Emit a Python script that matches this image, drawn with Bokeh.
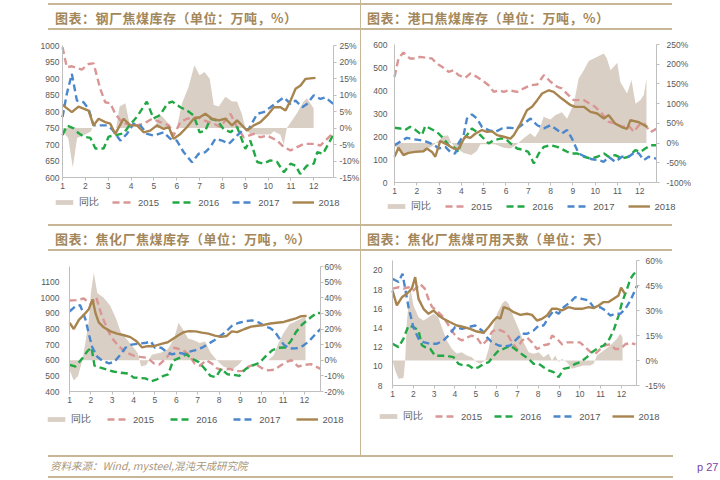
from bokeh.plotting import figure
from bokeh.models import Range1d, LinearAxis, FixedTicker, PrintfTickFormatter, Legend, LegendItem, Div
from bokeh.layouts import row, column
from bokeh.embed import file_html
from bokeh.resources import INLINE

# ---------------- data ----------------
month_ticks = list(range(1, 13))
series_names = ["同比", "2015", "2016", "2017", "2018"]

# Panel 1: 钢厂焦煤库存
mill_area_x = [1.0,1.25,1.45,1.64,2.0,2.25,2.3,3.35,3.5,3.75,3.97,5.07,5.21,5.43,5.8,6.0,6.23,6.52,6.77,7.0,7.21,7.44,7.62,7.84,8.13,8.42,8.64,8.86,9.0,9.22,10.1,10.24,10.53,10.68,10.82,11.26,11.55,11.7,11.99]
mill_area_y = [-1,-3,-12,-3,-2,-1,0,0,6.5,7.5,0,0,4.5,3,0,0,7.5,12.5,19,16,17,15,7,6.5,9.5,8,8,4,0,-2,-2,-1,-2,-5,0,4.5,8,9,6]
mill_2015_x = [1.0,1.19,1.41,1.85,2.14,2.36,2.65,2.87,3.09,3.31,3.6,3.89,4.26,4.55,4.92,5.28,5.65,5.86,6.16,6.45,6.89,7.18,7.62,7.91,8.35,8.64,8.93,9.37,9.66,9.96,10.39,10.69,10.98,11.27,11.56,12.0,12.29,12.8]
mill_2015_y = [995,934,937,927,944,946,869,828,825,793,768,760,758,763,778,768,758,727,768,778,783,773,763,753,793,753,722,732,722,727,712,692,682,692,702,702,697,732]
mill_2016_x = [1.0,1.2,1.49,1.71,1.93,2.22,2.44,2.8,3.02,3.38,3.67,3.97,4.26,4.69,4.98,5.27,5.6,5.8,6.16,6.45,6.74,7.0,7.25,7.47,7.76,8.05,8.35,8.64,9.0,9.22,9.52,9.8,10.1,10.39,10.69,10.98,11.2,11.4,11.7,12.0,12.15,12.4,12.85]
mill_2016_y = [729,757,749,734,724,720,688,688,724,729,734,761,784,830,779,789,825,830,813,803,788,737,742,778,773,747,737,753,687,712,647,642,652,647,616,642,636,611,636,642,677,672,729]
mill_2017_x = [1.0,1.19,1.41,1.63,1.92,2.14,2.36,2.65,2.94,3.16,3.53,3.82,4.11,4.4,4.7,4.99,5.43,5.72,6.0,6.3,6.67,6.96,7.25,7.47,7.69,7.98,8.28,8.57,8.86,9.15,9.52,9.8,10.1,10.39,10.69,10.98,11.2,11.49,11.7,12.0,12.29,12.5,12.85]
mill_2017_y = [783,854,914,833,828,808,758,758,758,747,712,732,763,758,732,727,737,717,712,677,646,672,677,692,717,712,702,722,742,747,793,798,813,828,843,823,833,813,823,849,838,843,823]
mill_2018_x = [1.0,1.41,1.7,2.14,2.36,2.58,2.87,3.09,3.31,3.67,3.97,4.26,4.55,4.84,5.13,5.43,5.65,5.86,6.16,6.45,6.74,7.03,7.25,7.54,7.84,8.13,8.42,8.64,9.08,9.37,9.66,9.96,10.25,10.54,10.76,10.98,11.2,11.42,11.64,12.07]
mill_2018_y = [820,798,815,803,758,778,768,763,732,778,758,758,737,742,758,747,753,717,732,753,778,783,793,778,773,778,758,773,742,758,768,788,813,813,803,833,869,879,899,902]

# Panel 2: 港口焦煤库存
port_area_x = [1.0,1.15,1.45,1.85,2.3,2.7,2.95,3.2,3.4,3.55,3.75,4.1,4.45,4.7,4.85,5.5,5.9,6.2,6.45,6.79,7.09,7.3,7.47,7.69,7.99,8.22,8.51,8.74,9.04,9.26,9.49,9.71,10.09,10.39,10.52,10.69,10.99,11.13,11.43,11.63,11.81,12.03,12.18,12.3]
port_area_y = [-5,-15,-30,-22,-18,-8,5,18,20,0,-12,-25,-30,-20,-3,-3,-12,-14,-5,12,25,15,30,67,60,71,78,62,100,164,185,208,219,227,215,185,204,155,126,160,100,109,122,164]
port_2015_x = [1.0,1.18,1.4,1.7,1.93,2.15,2.38,2.68,2.9,3.13,3.43,3.65,3.87,4.17,4.4,4.7,4.92,5.22,5.45,5.67,5.9,6.12,6.5,6.8,7.1,7.4,7.7,8.0,8.3,8.5,8.8,9.04,9.49,10.0,10.3,10.6,10.9,11.2,11.5,11.73,11.96,12.2,12.48,12.74]
port_2015_y = [459,539,565,539,539,546,543,539,517,503,481,488,467,455,474,459,445,423,394,401,394,401,394,409,423,426,467,438,416,409,380,358,358,329,300,264,256,242,248,220,249,256,219,233]
port_2016_x = [1.0,1.25,1.48,1.7,1.95,2.23,2.38,2.6,2.9,3.2,3.43,3.65,3.87,4.0,4.25,4.47,4.7,4.92,5.22,5.45,5.75,5.97,6.2,6.5,6.8,7.0,7.25,7.47,7.7,8.0,8.3,8.6,8.9,9.2,9.5,9.8,10.1,10.4,10.6,10.9,11.2,11.5,11.8,12.03,12.25,12.5,12.74]
port_2016_y = [238,235,228,242,228,206,246,235,220,191,162,155,133,177,206,235,220,199,170,184,191,191,170,148,141,133,83,126,155,162,155,141,126,126,112,104,112,126,112,119,104,112,141,133,148,162,162]
port_2017_x = [1.0,1.25,1.55,1.85,2.15,2.45,2.75,2.98,3.28,3.5,3.72,3.87,4.1,4.25,4.47,4.7,4.92,5.22,5.52,5.82,6.12,6.5,6.8,7.1,7.4,7.7,8.0,8.3,8.5,8.74,8.96,9.26,9.56,9.86,10.16,10.39,10.6,10.9,11.2,11.5,11.8,11.96,12.18,12.4,12.74]
port_2017_y = [162,177,194,188,184,177,165,148,155,133,126,170,206,278,296,278,242,228,220,235,238,235,256,278,249,235,249,228,213,228,191,126,112,101,97,90,112,90,112,112,133,126,97,112,104]
port_2018_x = [1.0,1.18,1.4,1.63,1.93,2.3,2.45,2.68,2.83,3.05,3.35,3.65,3.87,4.17,4.4,4.62,4.92,5.15,5.37,5.6,5.9,6.2,6.35,6.65,6.94,7.17,7.4,7.62,7.92,8.14,8.5,8.9,9.11,9.49,9.79,10.09,10.39,10.6,10.9,11.21,11.43,11.58,11.96,12.33]
port_2018_y = [112,151,119,129,133,136,148,133,112,180,165,148,146,200,194,212,228,220,223,206,199,191,206,256,314,329,358,387,401,394,365,336,329,329,307,300,278,293,256,240,233,271,262,242]

# Panel 3: 焦化厂焦煤库存
coke_area_x = [1.0,1.2,1.4,1.6,1.75,1.9,2.0,2.14,2.3,2.6,2.9,3.2,3.4,3.65,3.95,4.2,4.35,4.6,4.85,5.3,5.6,5.9,6.1,6.3,6.55,6.8,7.1,7.35,7.6,7.9,8.2,8.6,8.9,9.1,10.3,10.55,10.75,11.0,11.3,11.6,11.9,12.05]
coke_area_y = [-6,-13,-10,0,12,25,43,56,43,40,35,26,18,14,9,4.5,-4,-3,3.5,5,7,14,24,20,14,13,11,12,5,0,-4,-6,-3,0,0,3,10,17,23,25,27,28]
coke_2015_x = [1.0,1.3,1.67,2.0,2.25,2.5,2.8,3.0,3.3,3.65,4.0,4.3,4.65,4.95,5.2,5.5,5.9,6.3,6.6,6.85,7.1,7.4,7.65,7.9,8.2,8.5,8.8,9.1,9.4,9.7,10.0,10.3,10.6,10.9,11.2,11.4,11.7,12.0,12.3,12.75]
coke_2015_y = [982,985,995,958,1003,890,790,740,690,650,630,622,615,580,572,610,680,667,635,580,565,600,580,548,538,545,530,532,560,575,550,535,540,568,592,600,560,570,575,545]
coke_2016_x = [1.0,1.28,1.6,1.85,2.03,2.17,2.45,2.76,3.05,3.4,3.75,4.0,4.3,4.55,4.83,5.1,5.4,5.62,5.85,6.2,6.47,6.75,7.05,7.3,7.6,7.85,8.1,8.4,8.65,8.95,9.25,9.55,9.9,10.2,10.5,10.8,11.1,11.35,11.6,11.9,12.3,12.6,12.75]
coke_2016_y = [570,560,612,660,682,565,553,540,528,520,515,490,486,484,466,478,500,510,598,618,638,610,588,550,500,492,545,510,508,500,545,565,585,628,665,680,682,720,780,830,875,905,900]
coke_2017_x = [1.0,1.28,1.5,1.75,1.92,2.06,2.3,2.55,2.85,3.1,3.35,3.62,3.9,4.25,4.6,4.8,5.0,5.3,5.6,5.8,6.1,6.4,6.6,6.9,7.2,7.5,7.8,8.05,8.3,8.6,8.93,9.24,9.55,9.86,10.15,10.4,10.6,10.8,11.03,11.3,11.6,11.9,12.2,12.5,12.75]
coke_2017_y = [912,945,952,860,760,685,622,596,580,590,630,680,700,706,712,722,680,680,648,638,648,640,655,665,680,705,730,755,780,820,840,850,855,842,818,805,785,745,700,675,676,690,720,765,800]
coke_2018_x = [1.0,1.2,1.44,1.67,1.9,2.08,2.22,2.37,2.6,2.92,3.23,3.55,3.85,4.15,4.4,4.65,4.95,5.3,5.6,5.85,6.1,6.35,6.6,6.9,7.2,7.5,7.8,8.1,8.35,8.6,8.85,9.2,9.5,9.8,10.1,10.4,10.7,11.03,11.3,11.6,11.85,12.1]
coke_2018_y = [840,800,858,890,926,990,900,842,811,785,770,760,748,720,682,690,690,705,715,738,760,780,786,785,777,770,758,750,755,785,780,800,815,821,826,835,840,845,856,868,882,884]

# Panel 4: 焦化厂焦煤可用天数
days_area_x = [1.0,1.13,1.29,1.53,1.61,1.69,1.85,2.01,2.25,2.49,2.73,2.97,3.2,3.37,3.61,3.85,4.09,4.33,4.57,4.81,5.05,5.21,5.45,5.62,5.78,6.02,6.26,6.42,6.58,6.82,7.06,7.3,7.54,7.78,8.02,8.26,8.5,8.66,8.82,8.98,9.14,9.38,9.62,9.86,10.18,10.5,10.66,10.82,11.14,11.46,11.78,11.94,12.05]
days_area_y = [0,-6,-11,-10.5,0,23,44,33,26,24,26,28,26,20,12,7,4,5,3,2,-1,-2,0,7,17,28,34,36,34,26,19,11,5,4,5,2,4,0,3,-1,1,-1,-5,-4,-3,-3,-2,3,6,9,13,16,14]
days_2015_x = [1.0,1.3,1.53,1.77,2.0,2.33,2.55,2.73,2.9,3.13,3.37,3.6,3.85,4.09,4.33,4.57,4.81,5.05,5.3,5.53,5.78,6.0,6.26,6.5,6.74,6.98,7.22,7.46,7.7,7.94,8.26,8.5,8.66,8.9,9.14,9.4,9.7,10.0,10.26,10.5,10.74,10.98,11.22,11.46,11.7,11.94,12.18,12.43,12.67]
days_2015_y = [18.1,18.25,18.1,18.25,17.9,18.6,18.1,17.0,16.2,15.8,15.3,14.6,13.7,13.0,12.7,13.0,13.2,13.0,12.2,12.7,13.6,13.9,13.7,13.4,12.5,11.8,12.7,13.0,12.5,11.8,12.2,12.3,13.2,12.9,12.3,12.5,12.5,12.5,12.0,11.5,11.3,11.8,12.2,12.3,11.8,11.8,12.3,12.45,12.3]
days_2016_x = [1.0,1.29,1.53,1.77,2.0,2.25,2.41,2.57,2.81,3.05,3.29,3.6,3.93,4.17,4.41,4.65,4.9,5.13,5.38,5.62,5.86,6.1,6.34,6.66,6.98,7.3,7.54,7.78,8.02,8.26,8.5,8.74,8.98,9.22,9.54,9.78,10.02,10.34,10.58,10.82,11.14,11.38,11.62,11.86,12.03,12.27,12.43,12.59,12.75]
days_2016_y = [12.35,12.0,12.9,14.26,14.1,13.74,12.2,12.0,11.83,11.1,11.1,11.1,10.96,10.26,10.1,10.1,9.74,9.9,10.26,10.43,11.1,11.65,11.83,12.17,11.65,11.13,10.78,10.26,10.26,9.9,9.57,9.39,8.87,9.74,9.9,10.26,10.43,10.96,11.48,11.83,12.17,12.7,13.74,15.3,16.7,18.1,19.13,19.65,19.83]
days_2017_x = [1.0,1.29,1.48,1.61,1.77,2.0,2.25,2.49,2.81,3.13,3.45,3.77,4.01,4.33,4.65,4.97,5.3,5.53,5.78,6.1,6.42,6.66,6.9,7.22,7.46,7.78,8.02,8.26,8.5,8.74,8.98,9.22,9.54,9.78,10.1,10.42,10.66,10.98,11.22,11.46,11.7,11.94,12.18,12.43,12.75]
days_2017_y = [19.13,18.8,19.65,18.1,16.17,14.1,12.87,12.52,12.35,12.35,12.7,13.4,14.1,13.9,14.1,14.26,13.74,13.04,12.52,12.17,12.1,12.17,12.7,13.4,13.4,13.74,14.26,14.26,15.13,15.83,15.48,16.17,16.7,17.22,17.04,16.87,16.17,16.17,15.83,15.3,15.48,15.48,16.0,16.87,18.43]
days_2018_x = [1.0,1.21,1.45,1.69,1.93,2.09,2.25,2.49,2.73,2.97,3.21,3.45,3.77,4.09,4.41,4.73,5.05,5.38,5.62,5.86,6.02,6.18,6.34,6.58,6.82,7.14,7.46,7.7,7.94,8.18,8.42,8.66,8.9,9.14,9.46,9.78,10.1,10.42,10.66,10.9,11.14,11.38,11.62,11.86,11.98,12.15]
days_2018_y = [17.9,16.35,17.2,17.57,18.1,19.3,17.04,16.0,15.48,15.83,15.3,14.96,14.6,14.26,14.1,13.9,13.63,13.5,14.1,14.78,15.13,14.96,16.17,16.0,15.65,15.37,15.48,15.37,14.78,14.96,15.3,16.0,16.0,15.83,16.17,16.0,16.0,16.17,16.07,16.35,16.7,16.7,17.04,17.4,18.2,17.6]

titles = ["图表：钢厂焦煤库存（单位：万吨，%）", "图表：港口焦煤库存（单位：万吨，%）",
          "图表：焦化厂焦煤库存（单位：万吨，%）", "图表：焦化厂焦煤可用天数（单位：天）"]
source_text = "资料来源：Wind, mysteel,混沌天成研究院"
page_text = "p 27"

# ---------------- styles ----------------
C_AREA = "#dacfc5"
C15 = "#d99694"
C16 = "#22a845"
C17 = "#4a87cc"
C18 = "#a8844f"
RULE = "#c8b796"
TXT = "#595959"
AXC = "#bfbfbf"
NUMFONT = "Liberation Sans"


def pair(xs, ys):
    n = min(len(xs), len(ys))
    return xs[:n], ys[:n]


def build(geo, xmax, yl, yr, lticks, rticks, area, s15, s16, s17, s18,
          lgap, rgap, leg_left, leg_center, legspacing):
    # geo: page-pixel geometry of the figure and of the axes box
    fx0, fy0, fw, fh, L, R, T, D = geo
    ppm = (R - L) / (xmax - 1.0)
    x0 = 1.0 - (L - fx0) / ppm
    x1 = xmax + (fx0 + fw - R) / ppm
    a, b = yl
    c, d = yr
    ppu = (D - T) / (b - a)
    y1 = b + (T - fy0) / ppu
    y0 = a - (fy0 + fh - D) / ppu
    ppr = (D - T) / (d - c)
    r1 = d + (T - fy0) / ppr
    r0 = c - (fy0 + fh - D) / ppr

    p = figure(width=fw, height=fh, x_range=Range1d(x0, x1), y_range=Range1d(y0, y1),
               toolbar_location=None, output_backend="svg",
               min_border_left=0, min_border_right=0, min_border_top=0, min_border_bottom=0)
    p.title.visible = False
    p.extra_y_ranges = {"pct": Range1d(r0, r1)}
    p.outline_line_color = None
    p.xgrid.visible = False
    p.ygrid.visible = False
    p.background_fill_color = "white"
    p.border_fill_color = "white"

    xa = p.xaxis[0]
    xa.fixed_location = a
    xa.bounds = (1.0, xmax)
    xa.ticker = FixedTicker(ticks=month_ticks)
    xa.major_tick_in = 0
    xa.major_tick_out = 3
    xa.major_label_standoff = 2
    xa.minor_tick_line_color = None

    ya = p.yaxis[0]
    ya.fixed_location = 1.0
    ya.bounds = (a, b)
    ya.ticker = FixedTicker(ticks=lticks)
    ya.major_tick_in = 0
    ya.major_tick_out = 0
    ya.major_label_standoff = lgap
    ya.minor_tick_line_color = None

    ra = LinearAxis(y_range_name="pct", fixed_location=xmax, bounds=(c, d))
    ra.ticker = FixedTicker(ticks=rticks)
    ra.formatter = PrintfTickFormatter(format="%d%%")
    ra.major_tick_in = 0
    ra.major_tick_out = 3
    ra.major_label_standoff = rgap
    ra.minor_tick_line_color = None
    p.add_layout(ra, "right")

    for ax in (xa, ya, ra):
        ax.axis_line_color = AXC
        ax.major_tick_line_color = AXC
        ax.major_label_text_font = NUMFONT
        ax.major_label_text_font_size = "8.5px"
        ax.major_label_text_color = TXT

    ax_, ay_ = pair(*area)
    r_area = p.varea(x=ax_, y1=0, y2=ay_, y_range_name="pct", fill_color=C_AREA, fill_alpha=1.0)
    rs = []
    for (xs, ys), col, dash in ((s15, C15, "7 4"), (s16, C16, "7 4"), (s17, C17, "7 4"), (s18, C18, "solid")):
        xs, ys = pair(xs, ys)
        rs.append(p.line(xs, ys, line_color=col, line_width=2.4, line_dash=dash))

    items = [LegendItem(label=series_names[0], renderers=[r_area])]
    for name, r in zip(series_names[1:], rs):
        items.append(LegendItem(label=name, renderers=[r]))
    pad = 2
    leg_h = 11 + 2 * pad
    loc = (leg_left - pad - fx0, (fy0 + fh) - (leg_center + leg_h / 2.0))
    leg = Legend(items=items, orientation="horizontal", location=loc,
                 border_line_color=None, background_fill_alpha=0,
                 label_text_font=NUMFONT, label_text_font_size="9.5px", label_text_color=TXT,
                 glyph_width=22, glyph_height=6, label_height=11, label_standoff=4,
                 spacing=legspacing, padding=pad, margin=0)
    p.add_layout(leg, "center")
    return p


def title_div(text, width, line_left, line_width, text_left):
    html = (
        f'<div style="position:relative;width:{width}px;height:32px;overflow:visible;">'
        f'<div style="position:absolute;left:{line_left}px;top:3px;width:{line_width}px;height:2px;background:{RULE};"></div>'
        f'<div style="position:absolute;left:{text_left}px;top:11px;font-family:\'Noto Sans CJK SC\';'
        f'font-weight:bold;font-size:13px;line-height:13px;letter-spacing:0.5px;white-space:nowrap;color:#a3875a;">{text}</div>'
        f'<div style="position:absolute;left:{line_left}px;top:28px;width:{line_width}px;height:2px;background:{RULE};"></div>'
        '</div>'
    )
    return Div(text=html, width=width, height=32, margin=0)


# geometry: (fig_x0, fig_y0, fig_w, fig_h, left_axis_x, right_axis_x, data_top_y, data_bottom_y)
p1 = build((0, 32, 360, 189, 62, 333, 45, 177), 12.86, (600, 1000), (-15, 25),
           list(range(600, 1001, 50)), list(range(-15, 26, 5)),
           (mill_area_x, mill_area_y), (mill_2015_x, mill_2015_y), (mill_2016_x, mill_2016_y),
           (mill_2017_x, mill_2017_y), (mill_2018_x, mill_2018_y), 3, 3, 55, 201, 13)
p2 = build((361, 32, 359, 189, 394, 656, 44, 182), 12.75, (0, 600), (-100, 250),
           list(range(0, 601, 100)), list(range(-100, 251, 50)),
           (port_area_x, port_area_y), (port_2015_x, port_2015_y), (port_2016_x, port_2016_y),
           (port_2017_x, port_2017_y), (port_2018_x, port_2018_y), 7, 7, 387, 205, 14)
p3 = build((0, 253, 360, 199, 69, 320, 266, 391), 12.75, (400, 1200), (-20, 60),
           list(range(400, 1101, 100)), list(range(-20, 61, 10)),
           (coke_area_x, coke_area_y), (coke_2015_x, coke_2015_y), (coke_2016_x, coke_2016_y),
           (coke_2017_x, coke_2017_y), (coke_2018_x, coke_2018_y), 10, 1, 47, 418, 16)
p4 = build((361, 253, 359, 199, 392, 636, 260, 385), 12.72, (8, 21.04), (-15, 60),
           list(range(8, 21, 2)), list(range(-15, 61, 15)),
           (days_area_x, days_area_y), (days_2015_x, days_2015_y), (days_2016_x, days_2016_y),
           (days_2017_x, days_2017_y), (days_2018_x, days_2018_y), 10, 6, 379, 415, 12)

t1 = title_div(titles[0], 360, 48, 312, 55)
t2 = title_div(titles[1], 359, 0, 311, 6)
t3 = title_div(titles[2], 360, 48, 312, 55)
t4 = title_div(titles[3], 359, 0, 311, 6)

vl1 = Div(text="", width=1, height=221, margin=0, styles={"background-color": RULE})
vl2 = Div(text="", width=1, height=231, margin=0, styles={"background-color": RULE})

footer_html = (
    '<div style="position:relative;width:720px;height:28px;">'
    f'<div style="position:absolute;left:360px;top:0px;width:1px;height:3px;background:{RULE};"></div>'
    f'<div style="position:absolute;left:48px;top:3px;width:625px;height:2px;background:{RULE};"></div>'
    '<div style="position:absolute;left:50px;top:8px;font-family:\'Noto Sans CJK SC\';font-style:italic;'
    f'font-size:10.5px;line-height:12px;white-space:nowrap;color:#a8967a;">{source_text}</div>'
    f'<div style="position:absolute;left:48px;top:24px;width:625px;height:2px;background:{RULE};"></div>'
    '<div style="position:absolute;left:697px;top:9px;font-family:\'Liberation Sans\';font-size:11px;'
    f'line-height:12px;white-space:nowrap;color:#7a3fa6;">{page_text}</div>'
    '</div>'
)
footer = Div(text=footer_html, width=720, height=28, margin=0)

top = row(column(t1, p1, spacing=0), vl1, column(t2, p2, spacing=0), spacing=0)
bottom = row(column(t3, p3, spacing=0), vl2, column(t4, p4, spacing=0), spacing=0)
page = column(top, bottom, footer, spacing=0)

open("out.html", "w").write(file_html(page, INLINE))
